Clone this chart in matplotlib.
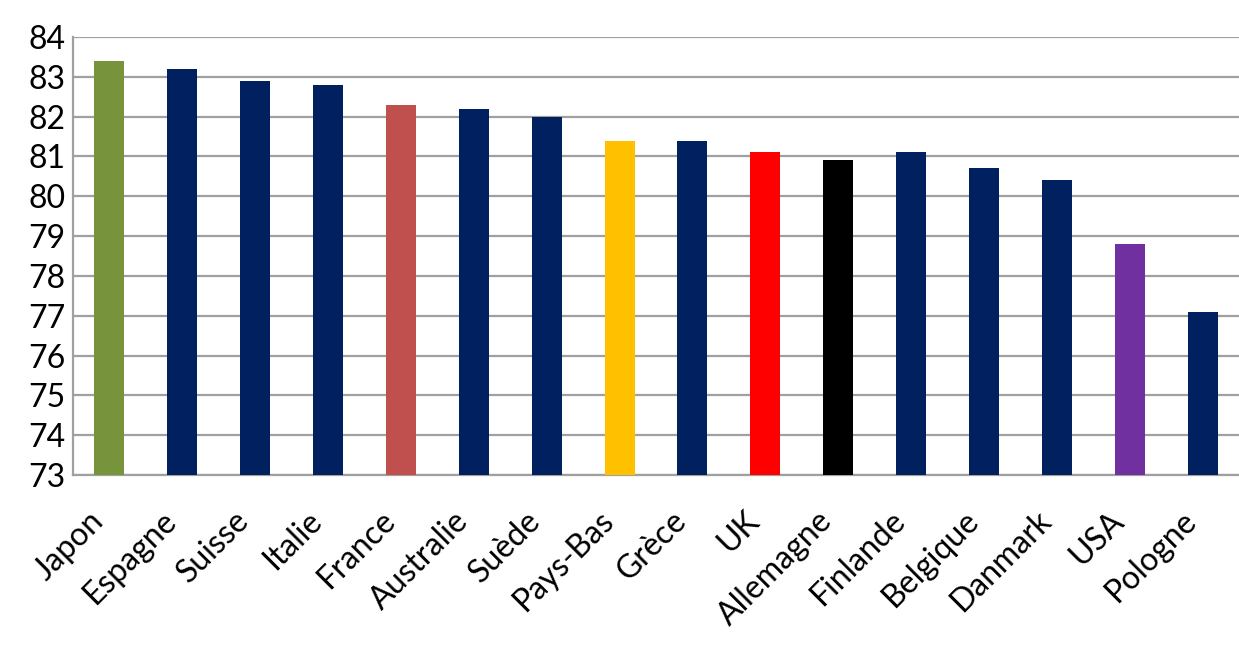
import matplotlib.pyplot as plt
import numpy as np

# Data ########################################################################

pays = ["Japon", "Espagne", "Suisse", "Italie", "France", "Australie", "Suède",
        "Pays-Bas", "Grèce", "UK", "Allemagne", "Finlande", "Belgique",
        "Danmark", "USA", "Pologne"]
esperance = [83.4, 83.2, 82.9, 82.8, 82.3, 82.2, 82.0, 81.4, 81.4, 81.1,
             80.9, 81.1, 80.7, 80.4, 78.8, 77.1]
couleurs = ["#77933C", "#002060", "#002060", "#002060", "#C0504D", "#002060",
            "#002060", "#FFC000", "#002060", "#FF0000", "#000000", "#002060",
            "#002060", "#002060", "#7030A0", "#002060"]

# Plot ########################################################################

plt.rcParams['font.family'] = ['Lato', 'DejaVu Sans']

fig = plt.figure(figsize=(12.39, 6.51), dpi=100)
ax = fig.add_axes([73/1239, 1 - 475/651, 1 - 73/1239, (475-37)/651])

x = np.arange(len(pays))
ax.bar(x, esperance, width=0.41, color=couleurs, zorder=3)

ax.set_ylim(73, 84)
ax.set_yticks(np.arange(73, 85, 1))
ax.set_xlim(-0.5, len(pays) - 0.5)
ax.grid(axis='y', color='#A0A0A0', linewidth=1.6, zorder=0)

ax.set_xticks(x)
ax.set_xticklabels(pays, rotation=45, ha='right', va='top')
ax.tick_params(axis='x', length=0, pad=22, labelsize=23, colors='#000000')
ax.tick_params(axis='y', length=0, pad=32, labelsize=23)
for lab in ax.get_yticklabels():
    lab.set_horizontalalignment('left')

for s in ['top', 'right']:
    ax.spines[s].set_visible(False)
ax.spines['left'].set_color('#A0A0A0')
ax.spines['bottom'].set_color('#A0A0A0')
ax.spines['left'].set_linewidth(1.6)
ax.spines['bottom'].set_linewidth(1.6)

plt.savefig('out.png', dpi=100)
